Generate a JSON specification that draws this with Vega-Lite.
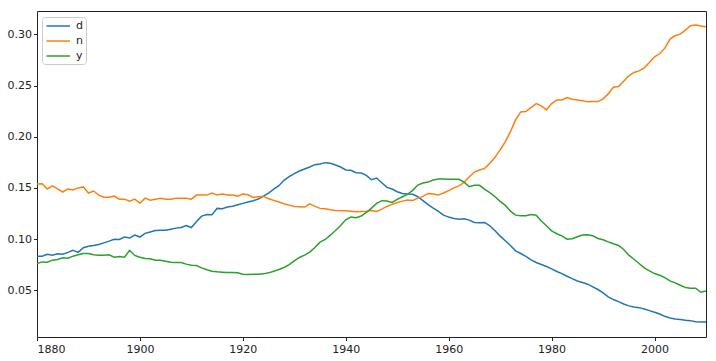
{
"$schema": "https://vega.github.io/schema/vega-lite/v6.json",
"width": 669, "height": 326,
"autosize": {"type": "none"},
"padding": {"left": 37, "top": 11, "right": 10, "bottom": 24},
"background": "white",
"config": {"view": {"stroke": "#222", "strokeWidth": 1}, "font": "DejaVu Sans"},
"data": {"values": [
{"year":1880,"d":0.0833,"n":0.1538,"y":0.0761},
{"year":1881,"d":0.0833,"n":0.154,"y":0.0777},
{"year":1882,"d":0.0852,"n":0.149,"y":0.0774},
{"year":1883,"d":0.0843,"n":0.152,"y":0.0794},
{"year":1884,"d":0.0856,"n":0.149,"y":0.080},
{"year":1885,"d":0.0852,"n":0.146,"y":0.0817},
{"year":1886,"d":0.087,"n":0.149,"y":0.0813},
{"year":1887,"d":0.089,"n":0.148,"y":0.0833},
{"year":1888,"d":0.087,"n":0.150,"y":0.0846},
{"year":1889,"d":0.0915,"n":0.151,"y":0.0859},
{"year":1890,"d":0.093,"n":0.145,"y":0.0859},
{"year":1891,"d":0.0937,"n":0.147,"y":0.0846},
{"year":1892,"d":0.0947,"n":0.143,"y":0.0843},
{"year":1893,"d":0.0963,"n":0.141,"y":0.0843},
{"year":1894,"d":0.098,"n":0.141,"y":0.0846},
{"year":1895,"d":0.0999,"n":0.142,"y":0.0823},
{"year":1896,"d":0.0996,"n":0.139,"y":0.083},
{"year":1897,"d":0.102,"n":0.139,"y":0.0823},
{"year":1898,"d":0.101,"n":0.137,"y":0.089},
{"year":1899,"d":0.104,"n":0.139,"y":0.084},
{"year":1900,"d":0.102,"n":0.135,"y":0.0823},
{"year":1901,"d":0.1056,"n":0.140,"y":0.081},
{"year":1902,"d":0.107,"n":0.138,"y":0.0807},
{"year":1903,"d":0.1084,"n":0.139,"y":0.0794},
{"year":1904,"d":0.1087,"n":0.140,"y":0.0794},
{"year":1905,"d":0.1087,"n":0.139,"y":0.0784},
{"year":1906,"d":0.1097,"n":0.139,"y":0.0774},
{"year":1907,"d":0.1107,"n":0.140,"y":0.0771},
{"year":1908,"d":0.1113,"n":0.140,"y":0.0771},
{"year":1909,"d":0.1133,"n":0.140,"y":0.0755},
{"year":1910,"d":0.1113,"n":0.139,"y":0.0745},
{"year":1911,"d":0.1172,"n":0.143,"y":0.0742},
{"year":1912,"d":0.1224,"n":0.143,"y":0.0719},
{"year":1913,"d":0.124,"n":0.143,"y":0.070},
{"year":1914,"d":0.1237,"n":0.145,"y":0.0686},
{"year":1915,"d":0.130,"n":0.143,"y":0.068},
{"year":1916,"d":0.1296,"n":0.144,"y":0.0676},
{"year":1917,"d":0.1313,"n":0.143,"y":0.0673},
{"year":1918,"d":0.132,"n":0.143,"y":0.0673},
{"year":1919,"d":0.1336,"n":0.142,"y":0.067},
{"year":1920,"d":0.1349,"n":0.144,"y":0.0657},
{"year":1921,"d":0.1362,"n":0.1433,"y":0.0653},
{"year":1922,"d":0.1375,"n":0.1407,"y":0.0657},
{"year":1923,"d":0.1391,"n":0.1414,"y":0.0657},
{"year":1924,"d":0.142,"n":0.1417,"y":0.066},
{"year":1925,"d":0.145,"n":0.1394,"y":0.067},
{"year":1926,"d":0.1489,"n":0.1378,"y":0.0686},
{"year":1927,"d":0.1522,"n":0.1362,"y":0.0702},
{"year":1928,"d":0.1574,"n":0.1345,"y":0.0722},
{"year":1929,"d":0.161,"n":0.1332,"y":0.0751},
{"year":1930,"d":0.1639,"n":0.1319,"y":0.0787},
{"year":1931,"d":0.1665,"n":0.1316,"y":0.082},
{"year":1932,"d":0.1685,"n":0.1313,"y":0.0843},
{"year":1933,"d":0.1704,"n":0.1345,"y":0.0872},
{"year":1934,"d":0.1727,"n":0.1319,"y":0.0918},
{"year":1935,"d":0.1734,"n":0.130,"y":0.097},
{"year":1936,"d":0.1747,"n":0.1296,"y":0.0996},
{"year":1937,"d":0.174,"n":0.1286,"y":0.1038},
{"year":1938,"d":0.1724,"n":0.128,"y":0.1084},
{"year":1939,"d":0.1704,"n":0.1277,"y":0.1133},
{"year":1940,"d":0.1675,"n":0.1277,"y":0.1189},
{"year":1941,"d":0.1672,"n":0.1273,"y":0.1215},
{"year":1942,"d":0.1649,"n":0.1267,"y":0.1208},
{"year":1943,"d":0.1646,"n":0.127,"y":0.1225},
{"year":1944,"d":0.1623,"n":0.1273,"y":0.126},
{"year":1945,"d":0.158,"n":0.128,"y":0.1303},
{"year":1946,"d":0.1597,"n":0.127,"y":0.1349},
{"year":1947,"d":0.1551,"n":0.1293,"y":0.1375},
{"year":1948,"d":0.1505,"n":0.1319,"y":0.1371},
{"year":1949,"d":0.1489,"n":0.1339,"y":0.1358},
{"year":1950,"d":0.1463,"n":0.1358,"y":0.1388},
{"year":1951,"d":0.1446,"n":0.1371,"y":0.1414},
{"year":1952,"d":0.144,"n":0.1381,"y":0.1437},
{"year":1953,"d":0.1437,"n":0.1378,"y":0.1476},
{"year":1954,"d":0.1414,"n":0.140,"y":0.1528},
{"year":1955,"d":0.1375,"n":0.1417,"y":0.1548},
{"year":1956,"d":0.1336,"n":0.1446,"y":0.1557},
{"year":1957,"d":0.1303,"n":0.144,"y":0.1577},
{"year":1958,"d":0.127,"n":0.143,"y":0.1587},
{"year":1959,"d":0.1234,"n":0.145,"y":0.1587},
{"year":1960,"d":0.1215,"n":0.1473,"y":0.1584},
{"year":1961,"d":0.1202,"n":0.150,"y":0.1584},
{"year":1962,"d":0.1195,"n":0.152,"y":0.1584},
{"year":1963,"d":0.1198,"n":0.1555,"y":0.1557},
{"year":1964,"d":0.1185,"n":0.161,"y":0.1512},
{"year":1965,"d":0.1163,"n":0.1655,"y":0.1525},
{"year":1966,"d":0.1159,"n":0.1675,"y":0.1525},
{"year":1967,"d":0.1163,"n":0.1691,"y":0.1486},
{"year":1968,"d":0.113,"n":0.174,"y":0.1453},
{"year":1969,"d":0.1081,"n":0.1799,"y":0.1414},
{"year":1970,"d":0.1029,"n":0.1871,"y":0.1368},
{"year":1971,"d":0.0983,"n":0.1952,"y":0.1329},
{"year":1972,"d":0.0937,"n":0.205,"y":0.1273},
{"year":1973,"d":0.0885,"n":0.2164,"y":0.1234},
{"year":1974,"d":0.0859,"n":0.2243,"y":0.1228},
{"year":1975,"d":0.083,"n":0.2246,"y":0.1228},
{"year":1976,"d":0.0797,"n":0.2285,"y":0.1241},
{"year":1977,"d":0.0771,"n":0.2324,"y":0.1234},
{"year":1978,"d":0.0751,"n":0.2302,"y":0.1176},
{"year":1979,"d":0.0732,"n":0.2262,"y":0.113},
{"year":1980,"d":0.0709,"n":0.2324,"y":0.1081},
{"year":1981,"d":0.0683,"n":0.236,"y":0.1052},
{"year":1982,"d":0.0663,"n":0.236,"y":0.1032},
{"year":1983,"d":0.0637,"n":0.2383,"y":0.0999},
{"year":1984,"d":0.0614,"n":0.2367,"y":0.1003},
{"year":1985,"d":0.0591,"n":0.236,"y":0.1022},
{"year":1986,"d":0.0575,"n":0.2351,"y":0.1039},
{"year":1987,"d":0.0559,"n":0.2341,"y":0.1042},
{"year":1988,"d":0.0533,"n":0.2344,"y":0.1032},
{"year":1989,"d":0.0507,"n":0.2344,"y":0.1006},
{"year":1990,"d":0.0474,"n":0.237,"y":0.0993},
{"year":1991,"d":0.0435,"n":0.2419,"y":0.0973},
{"year":1992,"d":0.0409,"n":0.2484,"y":0.0954},
{"year":1993,"d":0.0389,"n":0.2491,"y":0.0937},
{"year":1994,"d":0.0366,"n":0.2543,"y":0.0898},
{"year":1995,"d":0.0347,"n":0.2595,"y":0.0843},
{"year":1996,"d":0.0337,"n":0.2628,"y":0.0803},
{"year":1997,"d":0.033,"n":0.2644,"y":0.0761},
{"year":1998,"d":0.0317,"n":0.2674,"y":0.0719},
{"year":1999,"d":0.0301,"n":0.2726,"y":0.0689},
{"year":2000,"d":0.0285,"n":0.2781,"y":0.0663},
{"year":2001,"d":0.0268,"n":0.2811,"y":0.0647},
{"year":2002,"d":0.0245,"n":0.2866,"y":0.0624},
{"year":2003,"d":0.0229,"n":0.2954,"y":0.0591},
{"year":2004,"d":0.0219,"n":0.2987,"y":0.0572},
{"year":2005,"d":0.0213,"n":0.3003,"y":0.0549},
{"year":2006,"d":0.0206,"n":0.3042,"y":0.0526},
{"year":2007,"d":0.0203,"n":0.3085,"y":0.052},
{"year":2008,"d":0.0193,"n":0.3091,"y":0.052},
{"year":2009,"d":0.019,"n":0.3082,"y":0.048},
{"year":2010,"d":0.019,"n":0.3075,"y":0.0493}
]},
"transform": [{"fold": ["d", "n", "y"], "as": ["letter", "prop"]}],
"mark": {"type": "line", "strokeWidth": 1.5, "clip": true},
"encoding": {
  "x": {"field": "year", "type": "quantitative",
    "scale": {"domain": [1880, 2010], "nice": false, "zero": false},
    "axis": {"values": [1880, 1900, 1920, 1940, 1960, 1980, 2000], "format": "d", "title": null, "grid": false, "domain": false,
      "tickColor": "#222", "tickSize": 3.5, "tickWidth": 1, "labelFontSize": 11, "labelColor": "#222", "labelPadding": 3, "labelFont": "DejaVu Sans"}},
  "y": {"field": "prop", "type": "quantitative",
    "scale": {"domain": [0.0043, 0.3229], "nice": false, "zero": false},
    "axis": {"values": [0.05, 0.1, 0.15, 0.2, 0.25, 0.3], "format": ".2f", "title": null, "grid": false, "domain": false,
      "tickColor": "#222", "tickSize": 3.5, "tickWidth": 1, "labelFontSize": 11, "labelColor": "#222", "labelPadding": 2, "labelFont": "DejaVu Sans"}},
  "color": {"field": "letter", "type": "nominal",
    "scale": {"domain": ["d", "n", "y"], "range": ["#1f77b4", "#ff7f0e", "#2ca02c"]},
    "legend": {"title": null, "orient": "none", "legendX": 5, "legendY": 6,
      "symbolType": "M-0.9,0H3.8", "symbolSize": 100, "symbolStrokeWidth": 1.5,
      "labelFontSize": 11, "labelColor": "#222", "labelFont": "DejaVu Sans", "labelOffset": 19,
      "fillColor": "white", "strokeColor": "#ccc", "cornerRadius": 3, "padding": 3, "rowPadding": 4}}
}
}
